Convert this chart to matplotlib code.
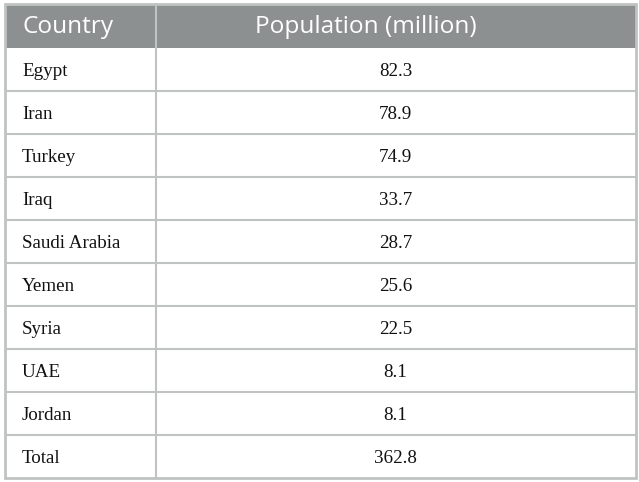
import matplotlib
matplotlib.use("Agg")
import matplotlib.pyplot as plt
from matplotlib.patches import Rectangle

countries = ["Egypt", "Iran", "Turkey", "Iraq", "Saudi Arabia", "Yemen", "Syria", "UAE", "Jordan", "Total"]
population = ["82.3", "78.9", "74.9", "33.7", "28.7", "25.6", "22.5", "8.1", "8.1", "362.8"]
headers = ["Country", "Population (million)"]

W, H = 639, 482
fig = plt.figure(figsize=(W / 100, H / 100), dpi=100)
ax = fig.add_axes([0, 0, 1, 1])
ax.set_xlim(0, W)
ax.set_ylim(H, 0)
ax.axis("off")

left, right = 4.5, 635.5
top, header_bottom = 3.5, 48
row_h = 43
col_split = 155.5
border = "#bfc3c2"
header_bg = "#8c9091"

bottom = header_bottom + row_h * len(countries)

ax.add_patch(Rectangle((left, top), right - left, header_bottom - top,
                       facecolor=header_bg, edgecolor="none"))

# header text
ax.text(22, (top + header_bottom) / 2 + 1, headers[0], color="white", fontsize=17.6,
        family="Open Sans", ha="left", va="center")
ax.text((col_split + right) / 2 - 30, (top + header_bottom) / 2 + 1, headers[1], color="white",
        fontsize=17.6, family="Open Sans", ha="center", va="center")

for i, (c, p) in enumerate(zip(countries, population)):
    yc = header_bottom + row_h * (i + 0.5)
    ax.text(22, yc + 2, c, fontsize=13.7, family="Liberation Serif", ha="left", va="center", color="#111111")
    ax.text((col_split + right) / 2, yc + 2, p, fontsize=13.7, family="Liberation Serif",
            ha="center", va="center", color="#111111")

# horizontal lines
for i in range(1, len(countries)):
    y = header_bottom + row_h * i
    ax.plot([left, right], [y, y], color=border, lw=1.5, solid_capstyle="butt")
# vertical divider
ax.plot([col_split, col_split], [top, bottom], color=border, lw=1.5)
# outer border
ax.add_patch(Rectangle((left, top), right - left, bottom - top, facecolor="none",
                       edgecolor=border, lw=2))

fig.savefig("out.png", dpi=100)
